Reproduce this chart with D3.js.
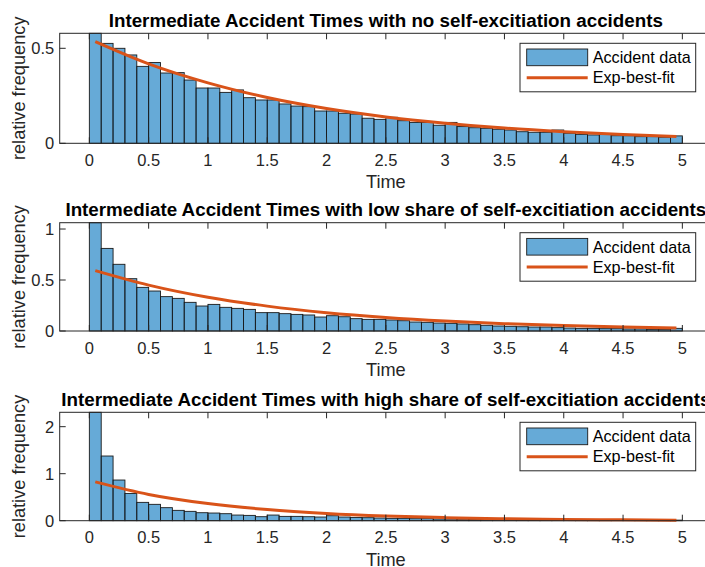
<!DOCTYPE html>
<html>
<head>
<meta charset="utf-8">
<script src="https://cdn.jsdelivr.net/npm/d3@7"></script>
<style>
  html, body { margin: 0; padding: 0; background: #fff; }
  svg { display: block; font-family: "Liberation Sans", Arial, Helvetica, sans-serif; }
</style>
</head>
<body>
<div id="chart"></div>
<script>
// Histogram bin edges (bin width 0.1 from 0 to 5)
const binEdges = [0, 0.1, 0.2, 0.3, 0.4, 0.5, 0.6, 0.7, 0.8, 0.9,
  1.0, 1.1, 1.2, 1.3, 1.4, 1.5, 1.6, 1.7, 1.8, 1.9,
  2.0, 2.1, 2.2, 2.3, 2.4, 2.5, 2.6, 2.7, 2.8, 2.9,
  3.0, 3.1, 3.2, 3.3, 3.4, 3.5, 3.6, 3.7, 3.8, 3.9,
  4.0, 4.1, 4.2, 4.3, 4.4, 4.5, 4.6, 4.7, 4.8, 4.9, 5.0];

// Relative frequency per bin
const freqNoSelf = [0.579, 0.526, 0.500, 0.465, 0.405, 0.425, 0.370, 0.372, 0.333, 0.291,
  0.291, 0.268, 0.281, 0.240, 0.228, 0.228, 0.207, 0.196, 0.193, 0.170,
  0.170, 0.158, 0.154, 0.132, 0.126, 0.137, 0.119, 0.110, 0.110, 0.095,
  0.110, 0.088, 0.082, 0.079, 0.074, 0.070, 0.061, 0.058, 0.058, 0.070,
  0.053, 0.047, 0.044, 0.046, 0.040, 0.040, 0.035, 0.035, 0.032, 0.039];

const freqLowShare = [1.062, 0.810, 0.654, 0.513, 0.428, 0.392, 0.337, 0.320, 0.281, 0.245,
  0.261, 0.232, 0.222, 0.212, 0.180, 0.180, 0.170, 0.163, 0.157, 0.137,
  0.150, 0.140, 0.121, 0.114, 0.114, 0.108, 0.101, 0.088, 0.085, 0.078,
  0.075, 0.069, 0.062, 0.056, 0.049, 0.046, 0.042, 0.039, 0.039, 0.033,
  0.029, 0.026, 0.026, 0.023, 0.023, 0.020, 0.020, 0.016, 0.016, 0.026];

const freqHighShare = [2.306, 1.376, 0.865, 0.580, 0.390, 0.348, 0.277, 0.220, 0.199, 0.170,
  0.163, 0.149, 0.120, 0.113, 0.085, 0.120, 0.092, 0.092, 0.085, 0.078,
  0.106, 0.078, 0.070, 0.064, 0.057, 0.050, 0.050, 0.043, 0.043, 0.036,
  0.036, 0.032, 0.030, 0.028, 0.026, 0.024, 0.022, 0.020, 0.020, 0.018,
  0.016, 0.015, 0.014, 0.013, 0.012, 0.011, 0.010, 0.010, 0.009, 0.012];

// Exponential best-fit curves, sampled along the time axis
const fitTimes = [0.05, 0.5, 1.0, 1.5, 2.0, 2.5, 3.0, 3.5, 4.0, 4.5, 4.95];
const fitNoSelf    = [0.535, 0.418, 0.318, 0.241, 0.183, 0.139, 0.106, 0.080, 0.061, 0.046, 0.036];
const fitLowShare  = [0.592, 0.450, 0.331, 0.244, 0.180, 0.133, 0.098, 0.072, 0.053, 0.039, 0.030];
const fitHighShare = [0.826, 0.559, 0.365, 0.237, 0.154, 0.100, 0.065, 0.042, 0.028, 0.018, 0.012];

// Axis ticks
const xTicks = [0, 0.5, 1, 1.5, 2, 2.5, 3, 3.5, 4, 4.5, 5];
const xTickLabels = ["0", "0.5", "1", "1.5", "2", "2.5", "3", "3.5", "4", "4.5", "5"];
const yTicksNoSelf = [0, 0.5];
const yTicksLowShare = [0, 0.5, 1];
const yTicksHighShare = [0, 1, 2];

const titles = [
  "Intermediate Accident Times with no self-excitiation accidents",
  "Intermediate Accident Times with low share of self-excitiation accidents",
  "Intermediate Accident Times with high share of self-excitiation accidents"
];
const legendLabels = ["Accident data", "Exp-best-fit"];
const xLabel = "Time";
const yLabel = "relative frequency";

// Panel geometry (pixel layout of each axes box)
const W = 705, H = 567;
const axLeft = 59.7, axRight = 712;
const panels = [
  { top: 33.3,  bottom: 143.3, freq: freqNoSelf,    fit: fitNoSelf,    yTicks: yTicksNoSelf,    title: titles[0] },
  { top: 222.7, bottom: 331.0, freq: freqLowShare,  fit: fitLowShare,  yTicks: yTicksLowShare,  title: titles[1] },
  { top: 412.3, bottom: 520.7, freq: freqHighShare, fit: fitHighShare, yTicks: yTicksHighShare, title: titles[2] }
];

const axisColor = "#262626";
const barFill = "#0072BD";
const fitColor = "#D95319";
const tickFont = 16.5, labelFont = 18.2, titleFont = 18.8, legendFont = 16.2;
const tickLen = 6;

const svg = d3.select("#chart").append("svg")
  .attr("width", W).attr("height", H);
svg.append("rect").attr("width", W).attr("height", H).attr("fill", "#fff");

const x = d3.scaleLinear().domain([-0.25, 5.25]).range([axLeft, axRight]);

panels.forEach((p, pi) => {
  const y = d3.scaleLinear().domain([0, d3.max(p.freq)]).range([p.bottom, p.top]);
  const g = svg.append("g");

  // histogram bars
  const bins = p.freq.map((v, i) => ({ x0: binEdges[i], x1: binEdges[i + 1], v }));
  g.append("g").selectAll("rect").data(bins).join("rect")
    .attr("x", d => x(d.x0))
    .attr("y", d => y(d.v))
    .attr("width", d => x(d.x1) - x(d.x0))
    .attr("height", d => y(0) - y(d.v))
    .attr("fill", barFill).attr("fill-opacity", 0.6)
    .attr("stroke", "#1a1a1a").attr("stroke-width", 0.9);

  // fitted exponential
  const line = d3.line()
    .x(d => x(d[0])).y(d => y(d[1]))
    .curve(d3.curveMonotoneX);
  g.append("path")
    .datum(fitTimes.map((t, i) => [t, p.fit[i]]))
    .attr("d", line)
    .attr("fill", "none").attr("stroke", fitColor).attr("stroke-width", 3)
    .attr("stroke-linejoin", "round");

  // axes box
  g.append("rect")
    .attr("x", axLeft).attr("y", p.top)
    .attr("width", axRight - axLeft).attr("height", p.bottom - p.top)
    .attr("fill", "none").attr("stroke", axisColor).attr("stroke-width", 1);

  // x ticks (bottom and top, pointing inward)
  const xt = g.append("g");
  xTicks.forEach((t, i) => {
    const px = x(t);
    xt.append("line").attr("x1", px).attr("x2", px)
      .attr("y1", p.bottom).attr("y2", p.bottom - tickLen)
      .attr("stroke", axisColor).attr("stroke-width", 1);
    xt.append("line").attr("x1", px).attr("x2", px)
      .attr("y1", p.top).attr("y2", p.top + tickLen)
      .attr("stroke", axisColor).attr("stroke-width", 1);
    xt.append("text")
      .attr("x", px).attr("y", p.bottom + 22.7)
      .attr("text-anchor", "middle")
      .attr("font-size", tickFont).attr("fill", axisColor)
      .text(xTickLabels[i]);
  });

  // y ticks
  const yt = g.append("g");
  p.yTicks.forEach(t => {
    const py = y(t);
    yt.append("line").attr("x1", axLeft).attr("x2", axLeft + tickLen)
      .attr("y1", py).attr("y2", py)
      .attr("stroke", axisColor).attr("stroke-width", 1);
    yt.append("text")
      .attr("x", axLeft - 5.5).attr("y", py)
      .attr("dy", "0.36em")
      .attr("text-anchor", "end")
      .attr("font-size", tickFont).attr("fill", axisColor)
      .text(d3.format("~g")(t));
  });

  // axis labels
  g.append("text")
    .attr("x", (axLeft + axRight) / 2).attr("y", p.bottom + 45)
    .attr("text-anchor", "middle")
    .attr("font-size", labelFont).attr("fill", axisColor)
    .text(xLabel);
  g.append("text")
    .attr("transform", `translate(25,${(p.top + p.bottom) / 2}) rotate(-90)`)
    .attr("text-anchor", "middle")
    .attr("font-size", labelFont).attr("fill", axisColor)
    .text(yLabel);

  // title
  g.append("text")
    .attr("x", (axLeft + axRight) / 2).attr("y", p.top - 6.6)
    .attr("text-anchor", "middle")
    .attr("font-size", titleFont).attr("font-weight", "bold").attr("fill", "#000")
    .text(p.title);

  // legend
  const lg = g.append("g").attr("transform", `translate(520,${p.top + 10})`);
  lg.append("rect").attr("x", 0).attr("y", 0).attr("width", 175.7).attr("height", 48.5)
    .attr("fill", "#fff").attr("stroke", axisColor).attr("stroke-width", 1);
  lg.append("rect").attr("x", 6.7).attr("y", 5.7).attr("width", 61).attr("height", 16.7)
    .attr("fill", barFill).attr("fill-opacity", 0.6)
    .attr("stroke", "#1a1a1a").attr("stroke-width", 0.9);
  lg.append("line").attr("x1", 6.7).attr("x2", 67.7).attr("y1", 34.4).attr("y2", 34.4)
    .attr("stroke", fitColor).attr("stroke-width", 3);
  legendLabels.forEach((lab, i) => {
    lg.append("text")
      .attr("x", 72.7).attr("y", i === 0 ? 14 : 34.2)
      .attr("dy", "0.36em")
      .attr("font-size", legendFont).attr("fill", "#000")
      .text(lab);
  });
});
</script>
</body>
</html>
